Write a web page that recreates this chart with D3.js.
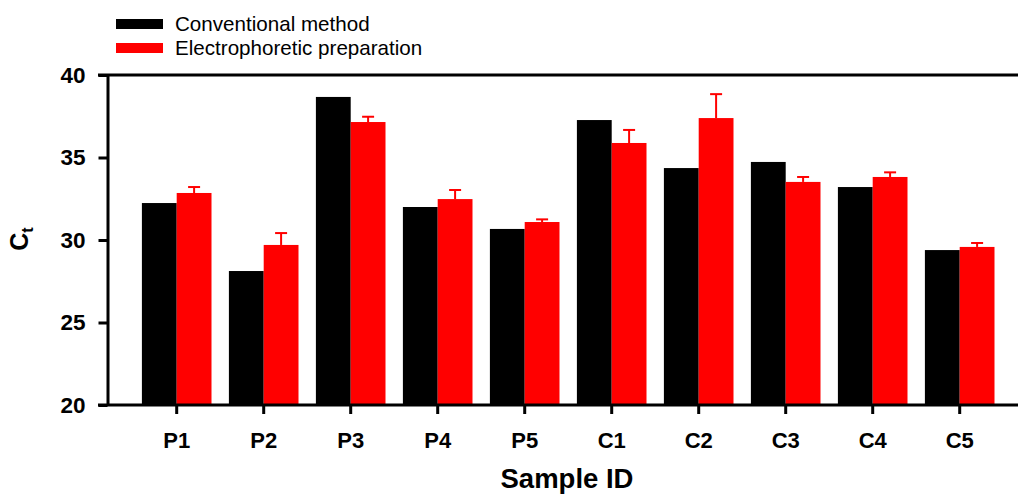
<!DOCTYPE html>
<html>
<head>
<meta charset="utf-8">
<script src="https://cdn.jsdelivr.net/npm/d3@7"></script>
<style>
  body { margin: 0; background: #fff; }
  svg { display: block; font-family: "Liberation Sans", Arial, sans-serif; }
</style>
</head>
<body>
<svg id="chart" width="1018" height="494"></svg>
<script>
const samples = ["P1", "P2", "P3", "P4", "P5", "C1", "C2", "C3", "C4", "C5"];
const seriesNames = ["Conventional method", "Electrophoretic preparation"];
const seriesColors = ["#000000", "#ff0000"];
const conventional = [32.24, 28.12, 38.67, 32.0, 30.67, 37.27, 34.36, 34.73, 33.21, 29.39];
const electro = [32.85, 29.70, 37.15, 32.48, 31.09, 35.88, 37.39, 33.52, 33.82, 29.58];
const electroErr = [0.36, 0.72, 0.32, 0.55, 0.16, 0.79, 1.45, 0.30, 0.28, 0.24];
const yTicks = [20, 25, 30, 35, 40];

const svg = d3.select("#chart");
const width = 1018;
const axisX = 107.5;
const plotTop = 75;
const plotBottom = 405;

const x = d3.scaleBand()
    .domain(samples)
    .range([124.5, 1011.9])
    .paddingInner(0.2)
    .paddingOuter(0.2);

const xSub = d3.scaleBand()
    .domain(seriesNames)
    .range([0, x.bandwidth()]);

const y = d3.scaleLinear()
    .domain([20, 40])
    .range([plotBottom, plotTop]);

const rows = samples.map((s, i) => ({
    sample: s,
    values: [
        { name: seriesNames[0], v: conventional[i], err: 0, color: seriesColors[0] },
        { name: seriesNames[1], v: electro[i], err: electroErr[i], color: seriesColors[1] }
    ]
}));

// error bars (drawn first so bar tops cover the stem base)
const errs = svg.append("g");
rows.forEach(r => {
    r.values.filter(d => d.err > 0).forEach(d => {
        const cx = x(r.sample) + xSub(d.name) + xSub.bandwidth() / 2;
        errs.append("line")
            .attr("x1", cx).attr("x2", cx)
            .attr("y1", y(d.v)).attr("y2", y(d.v + d.err))
            .attr("stroke", d.color).attr("stroke-width", 2);
        errs.append("line")
            .attr("x1", cx - 6).attr("x2", cx + 6)
            .attr("y1", y(d.v + d.err)).attr("y2", y(d.v + d.err))
            .attr("stroke", d.color).attr("stroke-width", 2);
    });
});

// bars
svg.append("g")
    .selectAll("g")
    .data(rows)
    .enter()
    .append("g")
    .attr("transform", d => `translate(${x(d.sample)},0)`)
    .selectAll("rect")
    .data(d => d.values)
    .enter()
    .append("rect")
    .attr("x", d => xSub(d.name))
    .attr("y", d => y(d.v))
    .attr("width", xSub.bandwidth())
    .attr("height", d => plotBottom - y(d.v))
    .attr("fill", d => d.color);

// y axis
const yAxis = svg.append("g")
    .attr("transform", `translate(${axisX},0)`)
    .call(d3.axisLeft(y).tickValues(yTicks).tickSize(9).tickPadding(13).tickSizeOuter(0));
yAxis.select(".domain").attr("stroke-width", 3);
yAxis.selectAll(".tick line").attr("stroke-width", 3);
yAxis.selectAll("text")
    .attr("font-size", 22.5)
    .attr("font-weight", "bold")
    .attr("fill", "#000");

// x axis
const xAxis = svg.append("g")
    .attr("transform", `translate(0,${plotBottom})`)
    .call(d3.axisBottom(x).tickSize(9).tickPadding(18));
xAxis.select(".domain").remove();
xAxis.selectAll(".tick line").attr("stroke-width", 3);
xAxis.selectAll("text")
    .attr("font-size", 22)
    .attr("font-weight", "bold")
    .attr("fill", "#000");

// baseline and top frame line
svg.append("line")
    .attr("x1", 98).attr("x2", width)
    .attr("y1", plotBottom).attr("y2", plotBottom)
    .attr("stroke", "#000").attr("stroke-width", 3);
svg.append("line")
    .attr("x1", 98).attr("x2", width)
    .attr("y1", plotTop).attr("y2", plotTop)
    .attr("stroke", "#000").attr("stroke-width", 3);

// axis titles
svg.append("text")
    .attr("x", 567)
    .attr("y", 488)
    .attr("text-anchor", "middle")
    .attr("font-size", 27.5)
    .attr("font-weight", "bold")
    .text("Sample ID");

const yTitle = svg.append("text")
    .attr("transform", "translate(28,239) rotate(-90)")
    .attr("text-anchor", "middle")
    .attr("font-size", 25)
    .attr("font-weight", "bold");
yTitle.append("tspan").text("C");
yTitle.append("tspan").attr("font-size", 16).attr("dy", 5).text("t");

// legend
const legend = svg.append("g");
seriesNames.forEach((name, i) => {
    legend.append("rect")
        .attr("x", 116).attr("y", 19 + i * 24)
        .attr("width", 47).attr("height", 10)
        .attr("fill", seriesColors[i]);
    legend.append("text")
        .attr("x", 175).attr("y", 24 + i * 24)
        .attr("dy", "0.35em")
        .attr("font-size", 20.6)
        .attr("fill", "#000")
        .text(name);
});
</script>
</body>
</html>
